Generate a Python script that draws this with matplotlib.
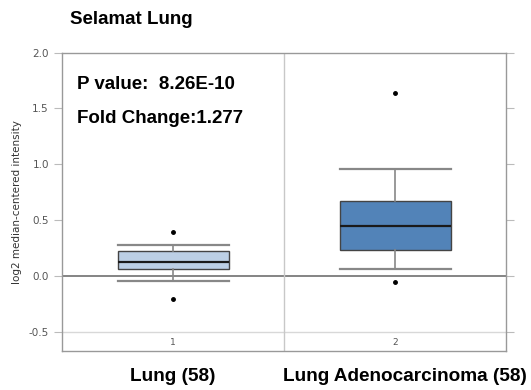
import numpy as np
import matplotlib.pyplot as plt
from matplotlib.transforms import blended_transform_factory

# values
groups = ["Lung (58)", "Lung Adenocarcinoma (58)"]
group_ids = ["1", "2"]
q1 = [0.062, 0.232]
medians = [0.125, 0.444]
q3 = [0.223, 0.671]
whislo = [-0.049, 0.062]
whishi = [0.277, 0.958]
fliers = [[0.396, -0.204], [1.642, -0.057]]
box_colors = ["#bccfe5", "#5283b8"]

p_value = "8.26E-10"
fold_change = "1.277"

fig = plt.figure(figsize=(5.31, 3.9), dpi=100)
ax = fig.add_axes([0.1168, 0.1008, 0.8362, 0.7642])

stats = []
for i in range(len(groups)):
    stats.append(dict(med=medians[i], q1=q1[i], q3=q3[i],
                      whislo=whislo[i], whishi=whishi[i],
                      fliers=fliers[i], label=groups[i]))

bp = ax.bxp(stats, positions=[1, 2], widths=0.5, patch_artist=True,
            showfliers=True,
            boxprops=dict(edgecolor="#444444", linewidth=1.0),
            medianprops=dict(color="#1a1a1a", linewidth=1.6),
            whiskerprops=dict(color="#888888", linewidth=1.2),
            capprops=dict(color="#888888", linewidth=1.6),
            flierprops=dict(marker="o", markersize=2.5, markerfacecolor="black",
                            markeredgecolor="black"))
for patch, c in zip(bp["boxes"], box_colors):
    patch.set_facecolor(c)
# caps as wide as the boxes
for cap in bp["caps"]:
    xs = cap.get_xdata()
    mid = (xs[0] + xs[1]) / 2
    cap.set_xdata([mid - 0.25, mid + 0.25])

ax.set_xlim(0.5, 2.5)
ax.set_ylim(-0.67, 2.0)

ax.axhline(0, color="#707070", linewidth=1.2, zorder=1)
ax.axhline(-0.5, color="#d8d8d8", linewidth=1.0, zorder=1)
ax.axvline(1.5, color="#c8c8c8", linewidth=1.0, zorder=1)
for i, gid in enumerate(group_ids):
    ax.text(i + 1, -0.6, gid, ha="center", va="center", fontsize=6.5,
            color="#555555")

ax.set_yticks(np.arange(-0.5, 2.01, 0.5))
ax.set_yticklabels(["%.1f" % v for v in np.arange(-0.5, 2.01, 0.5)])
ax.tick_params(axis="y", which="both", direction="out", length=6, width=0.8,
               color="#bbbbbb", labelsize=7.5, labelcolor="#555555",
               right=True, left=True)
ax.set_xticks([])

# group names under the axes
trans = blended_transform_factory(ax.transData, ax.transAxes)
label_x = [1.0, 2.045]
for x, g in zip(label_x, groups):
    ax.text(x, -0.088, g, transform=trans, ha="center", va="center",
            fontsize=13.7, fontweight="bold", family="Liberation Sans")

for s in ax.spines.values():
    s.set_color("#999999")
    s.set_linewidth(1.0)

ax.set_ylabel("log2 median-centered intensity", fontsize=7.5, color="#333333",
              labelpad=5)

ax.text(0.033, 0.893, "P value:  " + p_value, transform=ax.transAxes,
        fontsize=13.5, fontweight="bold", family="Liberation Sans", va="center")
ax.text(0.033, 0.78, "Fold Change:" + fold_change, transform=ax.transAxes,
        fontsize=13.5, fontweight="bold", family="Liberation Sans", va="center")

fig.text(0.132, 0.95, "Selamat Lung", fontsize=13.5, fontweight="bold",
         family="Liberation Sans", va="center")

fig.savefig("out.png", dpi=100)
